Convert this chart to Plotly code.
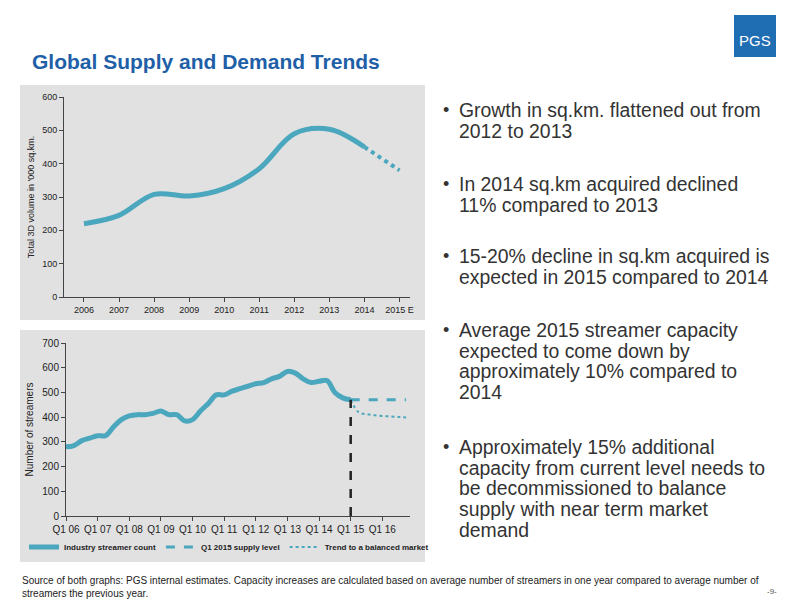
import plotly.graph_objects as go

# top chart: yearly 3D volume ('000 sq.km.)
years = ["2006", "2007", "2008", "2009", "2010", "2011", "2012", "2013", "2014", "2015 E"]
volume = [220, 245, 308, 303, 325, 385, 490, 503, 450, None]
volume_est = [None, None, None, None, None, None, None, None, 450, 380]

# bottom chart: quarterly streamer count, Q1 06 .. Q1 15
streamers = [280, 285, 305, 315, 325, 325, 360, 390,
             405, 410, 410, 415, 425, 410, 410, 385,
             390, 425, 455, 490, 490, 505, 515, 525,
             535, 540, 555, 565, 585, 578, 555, 540,
             545, 548, 500, 478, 470]
supply_level = [470] * 8          # Q1 15 .. Q4 16
trend = [470, 420, 412, 408, 405, 403, 401, 399]
q_labels = ["Q1 06", "Q1 07", "Q1 08", "Q1 09", "Q1 10", "Q1 11", "Q1 12", "Q1 13", "Q1 14", "Q1 15", "Q1 16"]

teal = "#4aa7bd"
grey = "#e1e1e1"
OFF = 8  # page body margin


def px(x):
    return (x - OFF) / 800


def py(y):
    return 1 - (y - OFF) / 600


fig = go.Figure()
fig.add_trace(go.Scatter(x=list(range(len(years))), y=volume, mode="lines",
                         line=dict(color=teal, width=5, shape="spline"),
                         showlegend=False, xaxis="x", yaxis="y"))
fig.add_trace(go.Scatter(x=list(range(len(years))), y=volume_est, mode="lines",
                         line=dict(color=teal, width=4, dash="dot"),
                         showlegend=False, xaxis="x", yaxis="y"))

qx = list(range(len(streamers)))
fx = list(range(36, 44))
fig.add_trace(go.Scatter(x=qx, y=streamers, mode="lines", name="<b>Industry streamer count</b>",
                         line=dict(color=teal, width=5, shape="spline"),
                         xaxis="x2", yaxis="y2"))
fig.add_trace(go.Scatter(x=fx, y=supply_level, mode="lines", name="<b>Q1 2015 supply level</b>",
                         line=dict(color=teal, width=3, dash="dash"),
                         xaxis="x2", yaxis="y2"))
fig.add_trace(go.Scatter(x=fx, y=trend, mode="lines", name="<b>Trend to a balanced market</b>",
                         line=dict(color=teal, width=2, dash="dot", shape="spline"),
                         xaxis="x2", yaxis="y2"))
fig.add_trace(go.Scatter(x=[36, 36], y=[0, 470], mode="lines", showlegend=False,
                         line=dict(color="#222", width=2.5, dash="dash"),
                         xaxis="x2", yaxis="y2"))

ax = dict(showgrid=False, zeroline=False, showline=True, linecolor="#444", linewidth=1,
          ticks="outside", ticklen=4, tickcolor="#444", tickfont=dict(size=9, color="#222"),
          automargin=False)

fig.update_layout(
    width=800, height=600, margin=dict(l=0, r=0, t=0, b=0),
    paper_bgcolor="white", plot_bgcolor=grey,
    font=dict(family="Liberation Sans, Arial", color="#222"),
    xaxis=dict(ax, domain=[px(64), px(410)], range=[-0.57, 9.3], tickvals=list(range(10)),
               ticktext=years, anchor="y"),
    yaxis=dict(ax, domain=[py(297), py(97)], range=[0, 600], dtick=100, anchor="x",
               title=dict(text="Total 3D volume in '000 sq.km.", font=dict(size=9), standoff=6)),
    xaxis2=dict(ax, domain=[px(66), px(410)], range=[0, 43.5], tickvals=list(range(0, 44, 4)),
                ticktext=q_labels, anchor="y2", tickfont=dict(size=10, color="#222")),
    yaxis2=dict(ax, domain=[py(516), py(343)], range=[0, 700], dtick=100, anchor="x2",
                tickfont=dict(size=10, color="#222"),
                title=dict(text="Number of streamers", font=dict(size=10), standoff=6)),
    legend=dict(orientation="h", x=px(24), y=py(547), xanchor="left", yanchor="middle",
                font=dict(size=8, color="#222"), bgcolor="rgba(0,0,0,0)", tracegroupgap=0),
    shapes=[
        dict(type="rect", xref="paper", yref="paper", x0=px(20), x1=px(425), y0=py(320), y1=py(85),
             fillcolor=grey, line=dict(width=0), layer="below"),
        dict(type="rect", xref="paper", yref="paper", x0=px(20), x1=px(425), y0=py(562), y1=py(330),
             fillcolor=grey, line=dict(width=0), layer="below"),
        dict(type="rect", xref="paper", yref="paper", x0=px(734), x1=px(776), y0=py(57), y1=py(15),
             fillcolor="#1f6db3", line=dict(width=0)),
    ],
)

anns = [
    dict(x=px(30), y=py(48), text="<b>Global Supply and Demand Trends</b>",
         font=dict(size=21, color="#1f5fa8"), xanchor="left"),
    dict(x=px(755), y=py(30), text="PGS", font=dict(size=15, color="white"), xanchor="center"),
    dict(x=px(20), y=py(601), text="Source of both graphs: PGS internal estimates. Capacity increases are calculated based on average number of streamers in one year compared to average number of<br>streamers the previous year.",
         font=dict(size=10, color="#222"), xanchor="left", align="left"),
    dict(x=px(772), y=py(598), text="-9-", font=dict(size=8, color="#555"), xanchor="center"),
]
bullets = [
    (110, ["Growth in sq.km. flattened out from", "2012 to 2013"]),
    (184, ["In 2014 sq.km acquired declined", "11% compared to 2013"]),
    (256, ["15-20% decline in sq.km acquired is", "expected in 2015 compared to 2014"]),
    (330, ["Average 2015 streamer capacity", "expected to come down by",
           "approximately 10% compared to", "2014"]),
    (447, ["Approximately 15% additional", "capacity from current level needs to",
           "be decommissioned to balance", "supply with near term market", "demand"]),
]
for top, lines in bullets:
    anns.append(dict(x=px(446), y=py(top), text="•", font=dict(size=18, color="#333"),
                     xanchor="center", yanchor="middle"))
    for i, line in enumerate(lines):
        anns.append(dict(x=px(457), y=py(top + 20.7 * i), text=line,
                         font=dict(size=19.4, color="#333"), xanchor="left", yanchor="middle"))
for a in anns:
    a.update(xref="paper", yref="paper", showarrow=False)
fig.update_layout(annotations=anns)

fig.write_html("out.html")
